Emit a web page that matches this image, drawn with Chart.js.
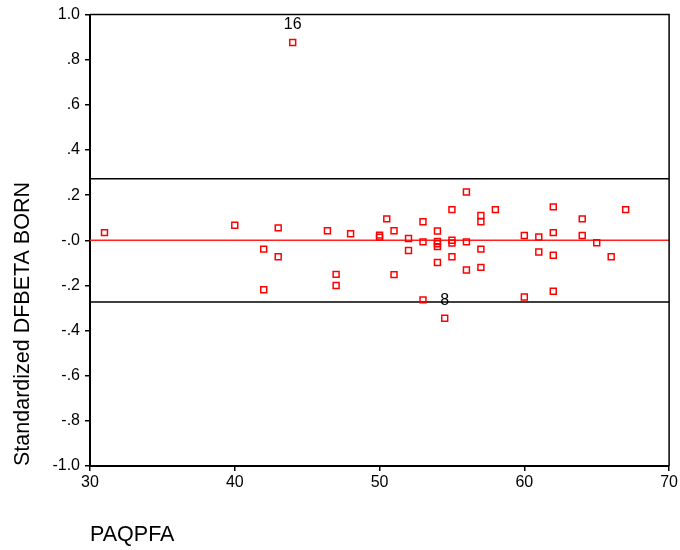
<!DOCTYPE html>
<html>
<head>
<meta charset="utf-8">
<script src="https://cdn.jsdelivr.net/npm/chart.js@4.4.1/dist/chart.umd.min.js"></script>
<style>
  body { margin: 0; background: #fff; }
</style>
</head>
<body>
<canvas id="chart" width="680" height="550"></canvas>
<script>
// PAQPFA values and standardized DFBETA for BORN
const paqpfa = [31, 40, 43, 42, 43, 42, 46.4, 47, 47, 48, 50, 50, 50.5, 51, 51, 52, 52,
  53, 53, 53, 54, 54, 54, 54, 54, 55, 55, 55, 55, 56, 56, 56, 57, 57, 57, 57, 58,
  60, 60, 61, 61, 62, 62, 62, 62, 64, 64, 65, 66, 67];
const dfbeta = [0.034, 0.067, 0.055, -0.039, -0.073, -0.219, 0.042, -0.151, -0.200, 0.029,
  0.023, 0.014, 0.095, 0.042, -0.152, 0.008, -0.045, 0.082, -0.007, -0.264, 0.041,
  -0.005, -0.015, -0.028, -0.098, 0.136, 0.0, -0.012, -0.073, 0.214, -0.007, -0.132,
  0.110, 0.082, -0.039, -0.120, 0.136, 0.021, -0.251, 0.015, -0.052, 0.148, 0.034,
  -0.066, -0.226, 0.095, 0.021, -0.011, -0.073, 0.136];

// labelled cases
const labelledX = [44, 54.5];
const labelledY = [0.876, -0.345];
const labelledCase = ['16', '8'];

// cut-off lines
const cutoff = 0.273;
const xRange = [30, 70];

const font = 'Arial, "Liberation Sans", sans-serif';

function toPoints(xs, ys) {
  return xs.map((x, i) => ({ x: x, y: ys[i] }));
}

function refLine(y, color) {
  return {
    type: 'line',
    data: xRange.map((x) => ({ x: x, y: y })),
    borderColor: color,
    borderWidth: 1.5,
    pointRadius: 0,
    fill: false,
  };
}

const pointStyle = {
  pointStyle: 'rect',
  pointRadius: 4.2,
  borderColor: '#ff0000',
  backgroundColor: 'rgba(0,0,0,0)',
  borderWidth: 1.5,
};

// case numbers above the labelled points
const caseLabels = {
  id: 'caseLabels',
  afterDatasetsDraw(chart) {
    const ctx = chart.ctx;
    const meta = chart.getDatasetMeta(1);
    ctx.save();
    ctx.font = '16px ' + font;
    ctx.fillStyle = '#000';
    ctx.textAlign = 'center';
    ctx.textBaseline = 'bottom';
    meta.data.forEach((pt, i) => {
      ctx.fillText(labelledCase[i], pt.x, pt.y - 10);
    });
    ctx.restore();
  },
};

// top and right edges of the frame
const frame = {
  id: 'frame',
  afterDraw(chart) {
    const { ctx, chartArea } = chart;
    ctx.save();
    ctx.strokeStyle = '#000';
    ctx.lineWidth = 1.5;
    ctx.beginPath();
    ctx.moveTo(chartArea.left, chartArea.top);
    ctx.lineTo(chartArea.right, chartArea.top);
    ctx.lineTo(chartArea.right, chartArea.bottom);
    ctx.stroke();
    ctx.restore();
  },
};

new Chart(document.getElementById('chart'), {
  type: 'scatter',
  data: {
    datasets: [
      Object.assign({ data: toPoints(paqpfa, dfbeta) }, pointStyle),
      Object.assign({ data: toPoints(labelledX, labelledY) }, pointStyle),
      refLine(0, '#ff2020'),
      refLine(cutoff, '#000'),
      refLine(-cutoff, '#000'),
    ],
  },
  options: {
    responsive: false,
    animation: false,
    events: [],
    layout: {
      padding: { top: 12, right: 10, left: 0, bottom: 0 },
    },
    plugins: {
      legend: { display: false },
      tooltip: { enabled: false },
    },
    scales: {
      x: {
        type: 'linear',
        min: 30,
        max: 70,
        border: { color: '#000', width: 2 },
        grid: {
          drawOnChartArea: false,
          drawTicks: true,
          tickLength: 5,
          color: '#000',
          lineWidth: 1.5,
        },
        ticks: {
          stepSize: 10,
          color: '#000',
          padding: 2,
          font: { family: font, size: 16 },
        },
        title: {
          display: true,
          text: 'PAQPFA',
          align: 'start',
          color: '#000',
          padding: { top: 0, bottom: 2 },
          font: { family: font, size: 21.5 },
        },
        afterFit: (scale) => {
          scale.height = 84;
        },
      },
      y: {
        type: 'linear',
        min: -1,
        max: 1,
        border: { color: '#000', width: 2 },
        grid: {
          drawOnChartArea: false,
          drawTicks: true,
          tickLength: 5,
          color: '#000',
          lineWidth: 1.5,
        },
        ticks: {
          stepSize: 0.2,
          color: '#000',
          padding: 5,
          font: { family: font, size: 16 },
          callback: (v) => {
            const r = Math.round(v * 10) / 10;
            if (r === 0) return '-.0';
            const s = Math.abs(r) === 1 ? '1.0' : '.' + Math.round(Math.abs(r) * 10);
            return (r < 0 ? '-' : '') + s;
          },
        },
        title: {
          display: true,
          text: 'Standardized DFBETA BORN',
          align: 'start',
          color: '#000',
          padding: { top: 10, bottom: 0 },
          font: { family: font, size: 21.5 },
        },
        afterFit: (scale) => {
          scale.width = 90;
        },
      },
    },
  },
  plugins: [caseLabels, frame],
});
</script>
</body>
</html>
